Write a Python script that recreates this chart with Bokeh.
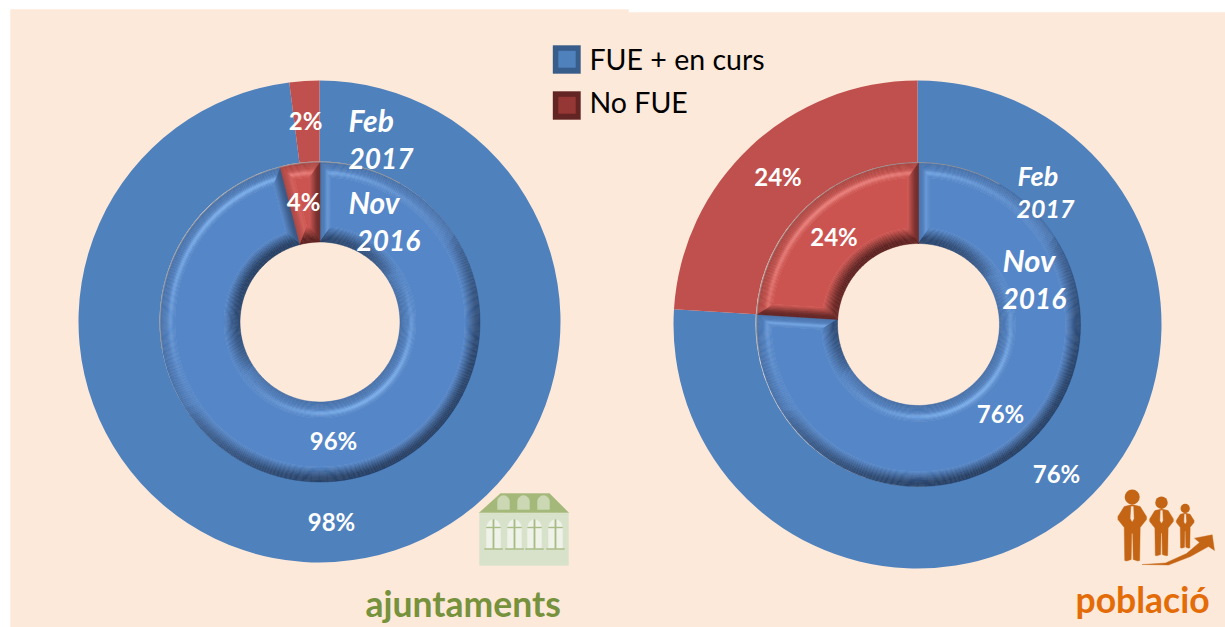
import math
from bokeh.plotting import figure
from bokeh.models import Range1d
from bokeh.core.properties import value
from bokeh.embed import file_html
from bokeh.resources import INLINE

# ---- data ----
categories = ["FUE + en curs", "No FUE"]
ajuntaments_feb2017 = [98, 2]
ajuntaments_nov2016 = [96, 4]
poblacio_feb2017 = [76, 24]
poblacio_nov2016 = [76, 24]
group_titles = ["ajuntaments", "població"]
period_labels = ["Feb", "2017", "Nov", "2016"]

# ---- style ----
PEACH = "#FDE9D9"
OUTER = ["#4F81BD", "#C0504D"]
FACE = ["#5486C8", "#CC5450"]
DARK = ["#243E64", "#5A1F1E"]
LIGHT = ["#7FB4F2", "#EE8480"]
SWATCH = [("#385D8A", "#4F81BD"), ("#632523", "#953735")]
FONT = value("Lato")
W, H = 1225, 627

p = figure(width=W, height=H, output_backend="svg", toolbar_location=None,
           x_range=Range1d(0, W), y_range=Range1d(0, H), min_border=0,
           outline_line_color=None, background_fill_color="white",
           border_fill_color="white")
p.axis.visible = False
p.grid.visible = False


def Y(y):
    return 627 - y


def poly(xs, ys, color, alpha=1.0):
    p.patch(list(xs), [Y(v) for v in ys], fill_color=color, line_color=color,
            line_width=0.4, fill_alpha=alpha, line_alpha=alpha)


# background panel with its stepped top edge
poly([10, 628, 628, 1225, 1225, 10], [9, 9, 12, 12, 627, 627], PEACH)


def mix(c1, c2, k):
    k = max(0.0, min(1.0, k))
    a = [int(c1[i:i + 2], 16) for i in (1, 3, 5)]
    b = [int(c2[i:i + 2], 16) for i in (1, 3, 5)]
    return "#%02x%02x%02x" % tuple(round(a[i] + (b[i] - a[i]) * k) for i in range(3))


def slices(vals):
    total = sum(vals)
    out, cum = [], 0
    for v in vals:
        hi = math.pi / 2 - 2 * math.pi * cum / total
        cum += v
        lo = math.pi / 2 - 2 * math.pi * cum / total
        out.append((lo, hi))
    return out


def flat_ring(cx, cy, r_in, r_out, vals):
    for (lo, hi), col in zip(slices(vals), OUTER):
        p.annular_wedge(x=[cx], y=[Y(cy)], inner_radius=r_in, outer_radius=r_out,
                        start_angle=lo, end_angle=hi, fill_color=col,
                        line_color=None)


LX, LY = -0.55, 0.83


def shade(i, t, d):
    col = mix(FACE[i], DARK[i], 0.34 * (1 - t) ** 1.5)
    if d < 0:
        col = mix(col, DARK[i], ((-d) ** 0.5) * min(1.0, 1.4 * (1 - t)))
    else:
        col = mix(col, LIGHT[i], (d ** 1.3) * 0.85 * math.exp(-(((t - 0.72) / 0.16) ** 2)))
    return col


def bevel_ring(cx, cy, r_in, r_out, vals, b_out=15, b_in=16, b_side=11):
    N_T = 14
    bx, by, bc = [], [], []

    def add(q, c):
        bx.append([a for a, _ in q])
        by.append([Y(b) for _, b in q])
        bc.append(c)

    for i, (lo, hi) in enumerate(slices(vals)):
        half = (hi - lo) / 2

        def ang(r, inset, f):
            da = min(inset / r, half)
            return hi - da - f * (hi - lo - 2 * da)

        def pt(r, inset, f):
            a = ang(r, inset, f)
            return cx + r * math.cos(a), cy - r * math.sin(a)

        segs = max(3, int((hi - lo) / math.radians(3)))
        # side facets
        for k in range(N_T):
            x0, x1 = k / N_T, (k + 1) / N_T
            t = (x0 + x1) / 2
            for f, nrm in ((0.0, hi + math.pi / 2), (1.0, lo - math.pi / 2)):
                d = math.cos(nrm) * LX + math.sin(nrm) * LY
                q = []
                for depth, frac in ((x0, 0), (x1, 0), (x1, 1), (x0, 1)):
                    ro = r_out - depth * b_out
                    ri = r_in + depth * b_in
                    r = ro if frac == 0 else ri
                    q.append(pt(r, depth * b_side, f))
                add(q, shade(i, t, d))
        # outer and hole rims
        for rim in (0, 1):
            b = b_out if rim == 0 else b_in
            for k in range(N_T):
                x0, x1 = k / N_T, (k + 1) / N_T
                t = (x0 + x1) / 2
                if rim == 0:
                    r0, r1 = r_out - x0 * b, r_out - x1 * b
                else:
                    r0, r1 = r_in + x0 * b, r_in + x1 * b
                for s in range(segs):
                    f0, f1 = s / segs, (s + 1) / segs
                    am = ang((r0 + r1) / 2, t * b_side, (f0 + f1) / 2)
                    nx, ny = math.cos(am), math.sin(am)
                    if rim == 1:
                        nx, ny = -nx, -ny
                    d = nx * LX + ny * LY
                    q = [pt(r0, x0 * b_side, f0), pt(r0, x0 * b_side, f1),
                         pt(r1, x1 * b_side, f1), pt(r1, x1 * b_side, f0)]
                    add(q, shade(i, t, d))
        # flat face
        ro, ri = r_out - b_out, r_in + b_in
        n = segs + 1
        top = [pt(ro, b_side, f / (n - 1)) for f in range(n)]
        bot = [pt(ri, b_side, f / (n - 1)) for f in reversed(range(n))]
        add(top + bot, FACE[i])
    p.patches(bx, by, fill_color=bc, line_color=bc, line_width=0.5)
    # thin grey hairline round the top-left of the ring
    p.arc(x=[cx], y=[Y(cy)], radius=r_out, start_angle=math.radians(60),
          end_angle=math.radians(190), line_color="#9a9a9a", line_width=0.8)


# ---- rings ----
flat_ring(319, 321, 160, 241, ajuntaments_feb2017)
bevel_ring(319.5, 321.5, 80, 160, ajuntaments_nov2016)
flat_ring(917, 324, 162, 244, poblacio_feb2017)
bevel_ring(918, 324, 81, 162, poblacio_nov2016)


# ---- texts ----
def txt(x, y, s, size, color="white", style="bold", align="left", baseline="middle"):
    p.text(x=[x], y=[Y(y)], text=[s], text_font=FONT, text_font_size=f"{size}px",
           text_font_style=style, text_color=color, text_align=align,
           text_baseline=baseline)


def pct(v):
    return f"{v}%"


txt(305, 120, pct(ajuntaments_feb2017[1]), 24, align="center")
txt(303, 201, pct(ajuntaments_nov2016[1]), 24, align="center")
txt(333, 440, pct(ajuntaments_nov2016[0]), 24, align="center")
txt(331, 521, pct(ajuntaments_feb2017[0]), 24, align="center")
txt(777.5, 175.5, pct(poblacio_feb2017[1]), 24, align="center")
txt(833.5, 235.5, pct(poblacio_nov2016[1]), 24, align="center")
txt(1000, 413, pct(poblacio_nov2016[0]), 24, align="center")
txt(1056, 473, pct(poblacio_feb2017[0]), 24, align="center")

for (x, y, s, size) in [(348, 119, period_labels[0], 30), (348, 158, period_labels[1], 28),
                        (348, 201, period_labels[2], 30), (356, 240, period_labels[3], 28),
                        (1017, 174.5, period_labels[0], 27), (1016, 208.5, period_labels[1], 25),
                        (1002, 259.5, period_labels[2], 31), (1002, 298, period_labels[3], 28)]:
    txt(x, y, s, size, style="bold italic")

txt(365, 603, group_titles[0], 35.5, color="#76923C")
txt(1075, 599, group_titles[1], 35.5, color="#E36C09")

# ---- legend ----
for k, (y0, ty, name) in enumerate(zip((45, 91), (58, 101), categories)):
    edge, fill = SWATCH[k]
    poly([552.5, 580, 580, 552.5], [y0, y0, y0 + 28, y0 + 28], edge)
    poly([558, 575, 575, 558], [y0 + 5.5, y0 + 5.5, y0 + 22, y0 + 22], fill)
    txt(589, ty, name, 28.5, color="black", style="normal")

# ---- building icon ----
BG, BR, BW, BS = "#D8E2CB", "#A4B87A", "#EEF2E8", "#A8BC85"
poly([479, 568, 568, 479], [512, 512, 565, 565], BG)
poly([500, 549, 568, 479], [493, 493, 512, 512], BR)
for dx in (497, 517, 537):
    arch = [(dx, 509), (dx, 501)] + [(dx + 6 + 6 * math.cos(a), 501 - 6 * math.sin(a))
                                    for a in [math.pi * j / 10 for j in range(10, -1, -1)]] + [(dx + 12, 509)]
    poly([a for a, _ in arch], [b for _, b in arch], "#CCD8B4")
for dx in (486, 507, 527, 548):
    arch = [(dx, 548), (dx, 528)] + [(dx + 7 + 7 * math.cos(a), 528 - 9 * math.sin(a))
                                    for a in [math.pi * j / 10 for j in range(10, -1, -1)]] + [(dx + 14, 548)]
    poly([a for a, _ in arch], [b for _, b in arch], BW)
    poly([dx + 6.3, dx + 7.7, dx + 7.7, dx + 6.3], [519, 519, 548, 548], BS)
    poly([dx, dx + 14, dx + 14, dx], [526.5, 526.5, 527.5, 527.5], BS)
    poly([dx - 2, dx + 16, dx + 16, dx - 2], [548, 548, 549, 549], BS)

# ---- people icon ----
MAN = "#C46515"


def man(cx, top, s):
    p.circle(x=[cx], y=[Y(top + 7.5 * s)], radius=7.5 * s, fill_color=MAN, line_color=None)
    body = [(0, 15), (8, 17), (14.3, 27), (14.3, 30), (8, 38), (7.5, 71), (5.5, 71.5), (1, 70),
            (0.5, 44), (-0.5, 44), (-1, 70), (-5.5, 71.5), (-7.5, 71), (-8, 38), (-14.3, 30), (-14.3, 27), (-8, 17)]
    poly([cx + a * s for a, _ in body], [top + b * s for _, b in body], MAN)
    tie = [(-1, 17), (1, 17), (1.6, 29), (0, 32), (-1.6, 29)]
    poly([cx + a * s for a, _ in tie], [top + b * s for _, b in tie], "#FDE9D9")


man(1131.7, 489, 1.0)
man(1161, 496, 0.83)
man(1184.7, 503.3, 0.62)

arrow = [(1141.5, 564), (1165, 562.5), (1186, 553), (1199, 542), (1194, 537.7), (1211.7, 534.3),
         (1214, 550), (1208, 546), (1190, 556), (1168, 564.5)]
poly([a for a, _ in arrow], [b for _, b in arrow], "#C46515")

open("out.html", "w").write(file_html(p, INLINE))
